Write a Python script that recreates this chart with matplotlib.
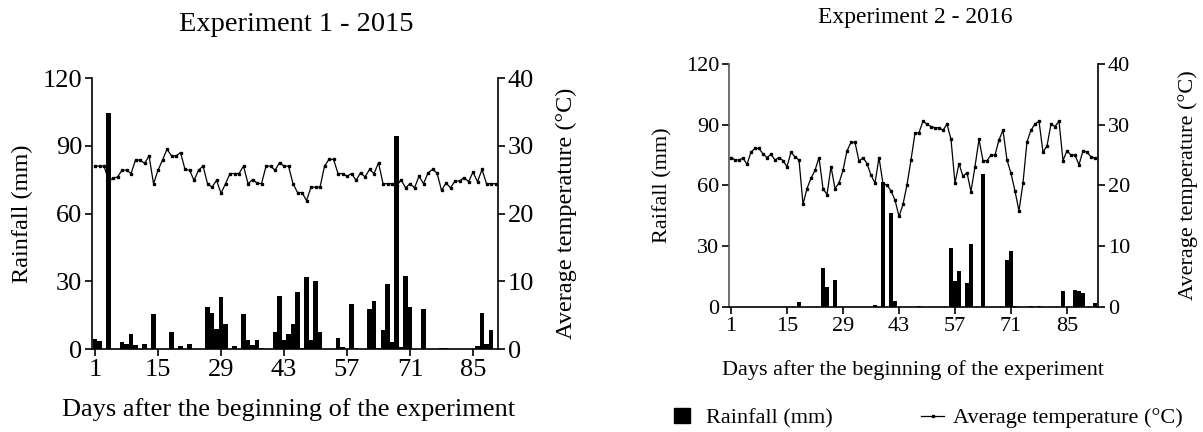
import numpy as np
import matplotlib
matplotlib.use("Agg")
import matplotlib.pyplot as plt
from matplotlib.patches import Patch
from matplotlib.lines import Line2D

plt.rcParams['font.family'] = ['Liberation Serif', 'DejaVu Serif']

# experiment 1 - 2015 (days 1..90)
rain_2015 = [4.4, 3.7, 0, 104.7, 0, 0, 3.2, 2.2, 6.5, 1.6,
             0, 2.2, 0, 15.6, 0, 0, 0, 7.4, 0, 1.3,
             0, 2.2, 0, 0, 0, 18.7, 16.1, 8.8, 23.0, 11.1,
             0, 1.3, 0, 15.6, 4.0, 1.6, 4.0, 0.3, 0, 0,
             7.4, 23.6, 4.0, 6.5, 10.9, 25.1, 0.3, 31.9, 4.0, 30.1,
             7.4, 0, 0, 0, 4.9, 0.7, 0, 19.8, 0.6, 0,
             0, 17.7, 21.1, 0.3, 8.4, 29.0, 3.2, 94.5, 0.7, 32.3,
             18.6, 0, 0, 17.9, 0, 0, 0, 0.6, 0.3, 0,
             0, 0, 0, 0, 0, 1.3, 16.0, 2.1, 8.6, 0]
temp_2015 = [27.0, 27.0, 27.0, 24.9, 25.2, 25.4, 26.4, 26.4, 25.9, 27.9,
             27.9, 27.4, 28.5, 24.4, 26.4, 27.9, 29.5, 28.5, 28.5, 29.0,
             26.5, 26.4, 24.9, 26.4, 27.0, 24.4, 23.9, 24.9, 23.0, 24.4,
             25.9, 25.9, 25.9, 27.0, 24.4, 25.0, 24.5, 24.4, 27.0, 27.0,
             26.4, 27.5, 27.0, 27.0, 24.4, 23.1, 23.1, 21.9, 23.9, 23.9,
             23.9, 27.0, 28.0, 28.0, 25.9, 25.9, 25.5, 25.9, 24.9, 26.0,
             25.4, 26.5, 25.9, 27.5, 24.4, 24.4, 24.4, 24.0, 25.0, 23.8,
             24.4, 23.8, 25.5, 24.4, 26.0, 26.5, 26.0, 23.4, 24.5, 23.8,
             24.8, 24.8, 25.3, 24.7, 26.1, 24.7, 26.5, 24.4, 24.4, 24.4]

# experiment 2 - 2016 (days 1..92)
rain_2016 = [0, 0, 0, 0, 0, 0, 0, 0, 0, 0,
             0, 0, 0, 0, 0, 0, 0, 2.6, 0, 0,
             0, 0, 0, 19.4, 9.9, 0, 13.5, 0, 0, 0,
             0, 0, 0, 0, 0, 0, 1.0, 0, 61.6, 0,
             46.5, 2.8, 0, 0, 0, 0, 0, 0.4, 0, 0,
             0, 0, 0, 0, 0, 29.3, 12.9, 17.6, 0, 11.9,
             31.2, 0, 0, 65.6, 0, 0, 0, 0, 0, 23.1,
             27.7, 0.5, 0, 0, 0, 0.5, 0, 0.5, 0, 0,
             0, 0, 0, 7.7, 0, 0, 8.2, 7.7, 6.9, 0,
             0, 2.0]
temp_2016 = [24.6, 24.2, 24.2, 24.5, 23.5, 25.5, 26.1, 26.1, 25.2, 24.6,
             25.1, 24.2, 24.6, 24.1, 23.1, 25.5, 24.7, 24.2, 16.9, 19.5,
             21.2, 22.5, 24.6, 19.5, 18.5, 23.1, 19.5, 20.4, 22.5, 25.7,
             27.1, 27.1, 24.0, 24.6, 23.6, 21.7, 20.4, 24.6, 20.3, 20.1,
             19.1, 17.6, 14.9, 16.9, 20.1, 24.2, 28.6, 28.7, 30.6, 30.1,
             29.7, 29.5, 29.5, 29.1, 30.1, 27.6, 20.4, 23.6, 21.5, 22.1,
             19.0, 23.1, 27.6, 24.1, 24.1, 25.0, 25.0, 27.5, 29.1, 24.2,
             22.0, 19.1, 15.8, 20.4, 27.2, 29.1, 30.1, 30.6, 25.5, 26.5,
             30.1, 29.7, 30.6, 24.1, 25.7, 25.0, 25.0, 23.4, 25.7, 25.5,
             24.7, 24.5]

day_ticks = [1, 15, 29, 43, 57, 71, 85]


def panel(rect, rain, temp, xlims, title, rain_label, fs, tfs, lfs, title_xy,
          xlab_xy, ylab_x, tlab_x):
    days = np.arange(1, len(rain) + 1)
    ax = fig.add_axes(rect)
    ax.bar(days, rain, width=1.0, color='black', edgecolor='none', zorder=2)
    ax.set_xlim(xlims)
    ax.set_ylim(0, 120)
    ax.set_yticks([0, 30, 60, 90, 120])
    ax.set_xticks(day_ticks)
    ax.spines['top'].set_visible(False)
    ax.spines['right'].set_visible(False)
    ax.tick_params(direction='out', length=5, width=1.2, labelsize=fs, pad=2)
    for s in ['left', 'bottom']:
        ax.spines[s].set_linewidth(1.2)
    ax.set_ylabel(rain_label, fontsize=lfs)
    ax.yaxis.set_label_coords(ylab_x, 0.5)

    ax2 = ax.twinx()
    ax2.plot(days, temp, color='black', lw=0.9, marker='s', ms=1.8, zorder=3)
    ax2.set_ylim(0, 40)
    ax2.set_yticks([0, 10, 20, 30, 40])
    ax2.spines['top'].set_visible(False)
    ax2.spines['left'].set_visible(False)
    ax2.spines['bottom'].set_visible(False)
    ax2.spines['right'].set_linewidth(1.2)
    ax2.tick_params(direction='out', length=5, width=1.2, labelsize=fs, pad=2)
    ax2.set_ylabel('Average temperature (°C)', fontsize=lfs)
    ax2.yaxis.set_label_coords(tlab_x, 0.5)

    ax.text(title_xy[0], title_xy[1], title, transform=ax.transAxes,
            ha='center', va='center', fontsize=tfs)
    ax.text(xlab_xy[0], xlab_xy[1], 'Days after the beginning of the experiment',
            transform=ax.transAxes, ha='center', va='center', fontsize=fs)
    return ax


fig = plt.figure(figsize=(12.03, 4.32), dpi=100)

panel([0.0765, 0.1921, 0.3375, 0.6273], rain_2015, temp_2015, (0.33, 90.56),
      'Experiment 1 - 2015', 'Rainfall (mm)', 19, 20.5, 17.5,
      (0.502, 1.196), (0.483, -0.225), -0.145, 1.143)

ax_r = panel([0.606, 0.2894, 0.3067, 0.5625], rain_2016, temp_2016, (0.5, 92.75),
             'Experiment 2 - 2016', 'Raifall (mm)', 16, 17, 16,
             (0.504, 1.193), (0.5, -0.259), -0.152, 1.217)
ax_r.spines['left'].set_color('#555555')

h1 = Patch(facecolor='black', edgecolor='black')
h2 = Line2D([], [], color='black', lw=0.9, marker='s', ms=1.8)
fig.legend([h1], ['Rainfall (mm)'], loc='center left',
           bbox_to_anchor=(0.544, 0.032), frameon=False, fontsize=16,
           handlelength=0.7, handleheight=0.7, handletextpad=0.7)
fig.legend([h2], ['Average temperature (°C)'], loc='center left',
           bbox_to_anchor=(0.749, 0.032), frameon=False, fontsize=16,
           handlelength=1.05, handletextpad=0.4)

fig.savefig('out.png', dpi=100)
plt.close('all')
